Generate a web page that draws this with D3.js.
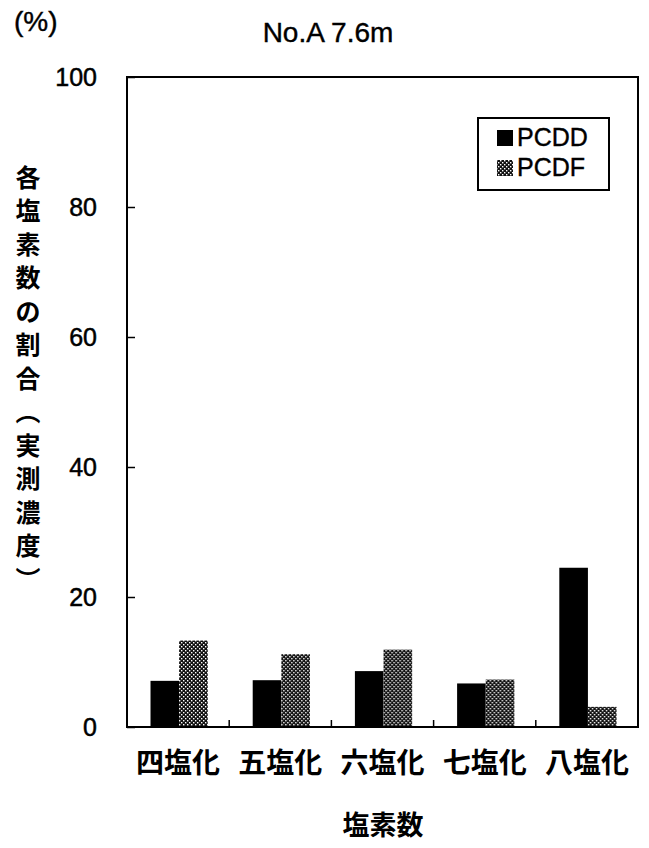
<!DOCTYPE html>
<html><head><meta charset="utf-8">
<script src="https://cdn.jsdelivr.net/npm/d3@7"></script>
<style>body{margin:0;background:#fff}svg{display:block}</style>
</head><body>
<svg id="c" width="649" height="848"></svg>
<script>
const categories = ["四塩化","五塩化","六塩化","七塩化","八塩化"];
const seriesNames = ["PCDD","PCDF"];
const pcdd = [7.1, 7.2, 8.6, 6.7, 24.5];
const pcdf = [13.3, 11.2, 11.9, 7.3, 3.1];
const yTicks = [0,20,40,60,80,100];
const yTitleChars = ["各","塩","素","数","の","割","合","︵","実","測","濃","度","︶"];

const svg = d3.select("#c");
const m = {left:127, top:77, right:638, bottom:727};
const num = "'Liberation Sans', Arial, sans-serif";
const jp = "'Noto Sans CJK JP', sans-serif";

const defs = svg.append("defs");
const pat = defs.append("pattern").attr("id","hatch").attr("patternUnits","userSpaceOnUse")
  .attr("width",4).attr("height",4);
pat.append("rect").attr("width",4).attr("height",4).attr("fill","#111");
pat.append("rect").attr("x",0).attr("y",0).attr("width",1.4).attr("height",1.4).attr("fill","#fff");
pat.append("rect").attr("x",2).attr("y",2).attr("width",1.4).attr("height",1.4).attr("fill","#fff");

const y = d3.scaleLinear().domain([0,100]).range([m.bottom, m.top]);
const x0 = d3.scaleBand().domain(categories).range([m.left, m.right]).padding(0);
const x1 = d3.scaleBand().domain(seriesNames).range([x0.bandwidth()*0.23, x0.bandwidth()*0.79]).padding(0);

const data = categories.map((c,i)=>({c, vals:[{s:"PCDD",v:pcdd[i]},{s:"PCDF",v:pcdf[i]}]}));
const fills = {PCDD:"#000", PCDF:"url(#hatch)"};

const g = svg.append("g");
g.selectAll("g.grp").data(data).join("g").attr("class","grp")
  .attr("transform",d=>`translate(${x0(d.c)},0)`)
  .selectAll("rect").data(d=>d.vals).join("rect")
  .attr("x",d=>x1(d.s)).attr("width",x1.bandwidth())
  .attr("y",d=>y(d.v)).attr("height",d=>y(0)-y(d.v))
  .attr("fill",d=>fills[d.s]);

// frame
svg.append("rect").attr("x",m.left).attr("y",m.top).attr("width",m.right-m.left).attr("height",m.bottom-m.top)
  .attr("fill","none").attr("stroke","#000").attr("stroke-width",2);

// y axis
const ya = svg.append("g").attr("transform",`translate(${m.left},0)`)
  .call(d3.axisRight(y).tickValues(yTicks).tickSize(8).tickFormat(""));
ya.select(".domain").remove();
ya.selectAll("line").attr("stroke","#000").attr("stroke-width",1.5);
svg.append("g").selectAll("text").data(yTicks).join("text")
  .attr("x",97).attr("y",d=>y(d)).attr("dy","0.36em").attr("text-anchor","end")
  .attr("font-family",num).attr("font-size",25).attr("stroke","#000").attr("stroke-width",0.5).text(d=>d);

// x axis ticks at boundaries
const bounds = categories.slice(1).map(c=>x0(c));
svg.append("g").selectAll("line").data(bounds).join("line")
  .attr("x1",d=>d).attr("x2",d=>d).attr("y1",m.bottom).attr("y2",m.bottom-7)
  .attr("stroke","#000").attr("stroke-width",1.5);
const xa = svg.append("g").attr("transform",`translate(0,${m.bottom})`)
  .call(d3.axisBottom(x0).tickSize(0).tickPadding(26));
xa.select(".domain").remove();
xa.selectAll("text").attr("font-family",jp).attr("font-weight","bold").attr("font-size",28).attr("fill","#000");

// titles
svg.append("text").attr("x",328).attr("y",42).attr("text-anchor","middle")
  .attr("font-family",num).attr("font-size",28).attr("stroke","#000").attr("stroke-width",0.4).text("No.A 7.6m");
svg.append("text").attr("x",14).attr("y",31).attr("font-family",num).attr("font-size",28)
  .attr("stroke","#000").attr("stroke-width",0.4).text("(%)");
svg.append("text").attr("x",383).attr("y",835).attr("text-anchor","middle")
  .attr("font-family",jp).attr("font-weight","bold").attr("font-size",27).text("塩素数");
svg.append("g").selectAll("text").data(yTitleChars).join("text")
  .attr("x",28).attr("y",(d,i)=>178+i*33.5).attr("dy","0.35em").attr("text-anchor","middle")
  .attr("font-family",jp).attr("font-weight","bold").attr("font-size",25).text(d=>d);

// legend
const lg = svg.append("g");
lg.append("rect").attr("x",478).attr("y",118).attr("width",131).attr("height",72)
  .attr("fill","#fff").attr("stroke","#000").attr("stroke-width",2);
lg.selectAll("rect.sw").data(seriesNames).join("rect").attr("class","sw")
  .attr("x",497).attr("y",(d,i)=>130+i*30).attr("width",16).attr("height",16).attr("fill",d=>fills[d]);
lg.selectAll("text").data(seriesNames).join("text")
  .attr("x",517).attr("y",(d,i)=>146+i*30).attr("font-family",num).attr("font-size",25)
  .attr("stroke","#000").attr("stroke-width",0.4).text(d=>d);
</script>
</body></html>
